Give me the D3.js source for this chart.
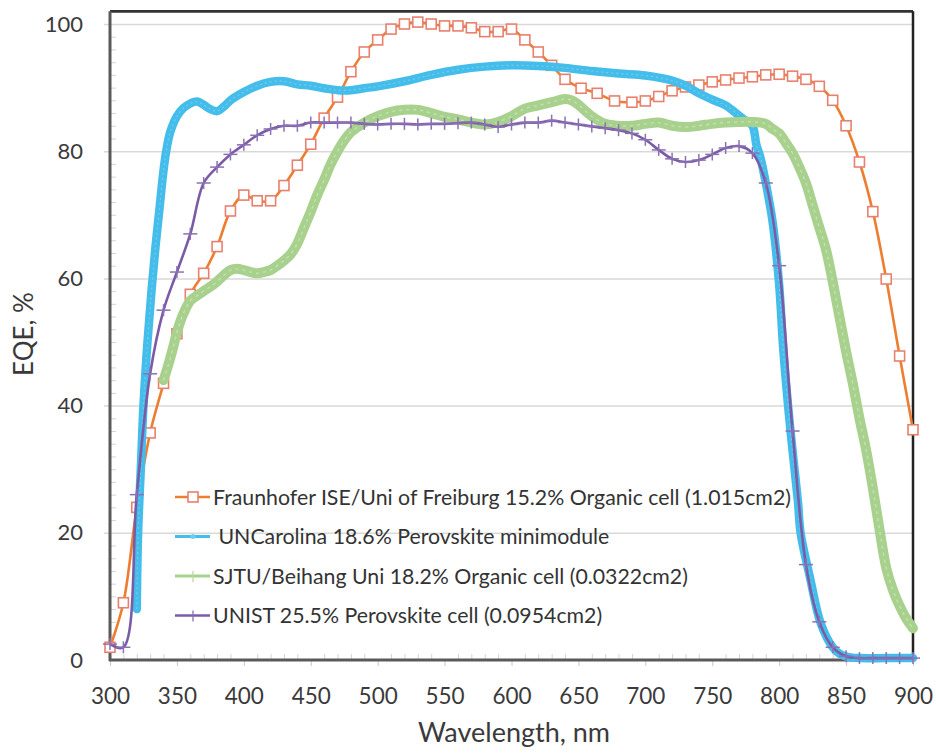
<!DOCTYPE html>
<html>
<head>
<meta charset="utf-8">
<script src="https://cdn.jsdelivr.net/npm/d3@7"></script>
<style>
  body { margin: 0; background: #fff; }
  svg { display: block; font-family: Lato, "Open Sans", sans-serif; }
</style>
</head>
<body>
<div id="chart"></div>
<script>
'use strict';

// data ===============================================================
const xTicks = [300, 350, 400, 450, 500, 550, 600, 650, 700, 750, 800, 850, 900];
const yTicks = [0, 20, 40, 60, 80, 100];

const seriesNames = [
  'Fraunhofer ISE/Uni of Freiburg 15.2% Organic cell (1.015cm2)',
  ' UNCarolina 18.6% Perovskite minimodule',
  'SJTU/Beihang Uni 18.2% Organic cell (0.0322cm2)',
  'UNIST 25.5% Perovskite cell (0.0954cm2)'
];

// Fraunhofer (orange, square markers)
const fraunhoferNm = [300, 310, 320, 330, 340, 350, 360, 370, 380, 390, 400, 410, 420, 430, 440, 450,
  460, 470, 480, 490, 500, 510, 520, 530, 540, 550, 560, 570, 580, 590, 600, 610, 620, 630, 640,
  652, 664, 677, 690, 700, 710, 720, 730, 740, 750, 760, 770, 780, 790, 800, 810, 820, 830, 840,
  850, 860, 870, 880, 890, 900];
const fraunhoferEqe = [2, 9, 24, 35.7, 43.5, 51.3, 57.5, 60.8, 65, 70.6, 73.1, 72.2, 72.2, 74.6, 77.8, 81.1,
  85.2, 88.5, 92.5, 95.6, 97.5, 99.2, 100, 100.3, 100, 99.7, 99.7, 99.4, 98.8, 98.8, 99.2, 97.5, 95.6, 93.5, 91.3,
  89.9, 89.1, 87.9, 87.7, 87.9, 88.6, 89.5, 90.1, 90.4, 90.9, 91.2, 91.5, 91.7, 92, 92.1, 91.8, 91.3, 90.2, 88,
  84, 78.3, 70.5, 59.9, 47.8, 36.2];

// UNCarolina (blue, dense dots)
const carolinaNm = [320, 321, 323, 325, 328, 331, 334, 337, 340, 342, 345, 350, 355, 360, 365, 370, 375, 380,
  385, 390, 400, 410, 420, 430, 440, 450, 460, 470, 480, 490, 500, 520, 540, 560, 580, 600, 620, 640, 660,
  680, 700, 720, 730, 740, 750, 760, 770, 775, 780, 783, 786, 790, 795, 800, 803, 808, 814, 816, 823, 831,
  840, 845, 851, 860, 880, 900];
const carolinaEqe = [8, 20, 30, 40, 50, 58, 65, 71, 77, 80, 83, 85.5, 86.8, 87.5, 87.8, 87.3, 86.6, 86.3,
  87, 88, 89.3, 90.3, 90.9, 91, 90.5, 90.3, 89.9, 89.6, 89.6, 89.9, 90.2, 91, 92, 92.8, 93.3, 93.5, 93.4, 93.1, 92.6,
  92.2, 91.9, 91.1, 90.3, 89.1, 88.1, 87.2, 85.6, 84.8, 84, 81, 79, 75, 69, 59, 49, 37, 25, 20, 13, 5.8,
  2, 1, 0.5, 0.3, 0.3, 0.3];

// SJTU/Beihang (green, dense triangles)
const sjtuNm = [340, 343, 347, 350, 353, 356, 360, 365, 370, 375, 380, 385, 390, 395, 400, 405, 410, 415, 420,
  425, 430, 435, 440, 445, 450, 455, 460, 465, 470, 475, 480, 485, 490, 500, 510, 520, 530, 540, 550, 560,
  570, 580, 590, 600, 610, 620, 630, 640, 645, 650, 660, 670, 680, 690, 700, 710, 720, 730, 740, 750, 760,
  770, 780, 790, 795, 800, 805, 810, 815, 820, 825, 830, 835, 840, 845, 850, 855, 860, 865, 870, 875, 880,
  885, 890, 895, 900];
const sjtuEqe = [44, 46, 49, 51.5, 53.5, 55, 56.5, 57.3, 58, 58.7, 59.5, 60.5, 61.3, 61.5, 61.3, 61, 60.8, 61, 61.3,
  62, 62.8, 63.8, 65.5, 68, 70.5, 73.2, 75.5, 78, 80, 81.7, 83, 83.8, 84.5, 85.5, 86.2, 86.5, 86.5, 86, 85.4, 85,
  84.5, 84.2, 84.6, 85.5, 86.7, 87.2, 87.7, 88.2, 88, 87.3, 85.5, 84.3, 84, 84, 84.3, 84.5, 84, 83.8, 84, 84.3, 84.5,
  84.6, 84.6, 84.3, 83.5, 82.8, 81.3, 79.7, 77.5, 75, 71.5, 68, 64.5, 59.5, 54, 48.5, 43.5, 38, 33, 27, 20.5, 14.5,
  11, 8.5, 6.5, 5];

// UNIST (purple, plus markers)
const unistNm = [300, 310, 320, 330, 340, 350, 360, 370, 380, 390, 400, 410, 420, 430, 440, 450, 460, 470,
  480, 490, 500, 510, 520, 530, 540, 550, 560, 570, 580, 590, 600, 610, 620, 630, 640, 650, 660, 670, 680,
  690, 700, 710, 720, 730, 740, 750, 760, 770, 780, 790, 800, 810, 820, 830, 840, 850, 860, 870, 880, 890, 900];
const unistEqe = [2.5, 2, 26, 45, 55, 61, 67, 75, 77.5, 79.5, 81, 82.5, 83.5, 84, 84, 84.5, 84.5, 84.5,
  84.5, 84.3, 84.2, 84.3, 84.3, 84.2, 84.3, 84.3, 84.4, 84.5, 84.2, 83.8, 84.2, 84.5, 84.5, 84.8, 84.5, 84.2, 83.9,
  83.6, 83.3, 82.8, 81.8, 80.2, 78.8, 78.3, 78.6, 79.5, 80.5, 80.8, 79.7, 75, 62, 36, 15, 6, 2, 0.6, 0.3, 0.3, 0.3,
  0.3, 0.3];

// setup ==============================================================
const width = 936;
const height = 756;

const svg = d3.select('#chart').append('svg')
  .attr('width', width)
  .attr('height', height);

const xScale = d3.scaleLinear().domain([300, 900]).range([110, 913]);
const yScale = d3.scaleLinear().domain([0, 100]).range([660, 24]);
const yTop = yScale(102); // plot frame sits a little above 100

const textColor = '#3a3a3a';

// gridlines + minor ticks ============================================
svg.append('g')
  .attr('class', 'grid')
  .attr('transform', 'translate(110,0)')
  .call(d3.axisLeft(yScale).tickValues(yTicks.filter(t => t > 0)).tickSizeInner(-803).tickSizeOuter(0).tickFormat(''))
  .call(g => g.select('.domain').remove())
  .call(g => g.selectAll('line').attr('stroke', '#d9d9d9').attr('stroke-width', 1.5).attr('x1', -6));

svg.append('g')
  .attr('transform', 'translate(110,0)')
  .call(d3.axisRight(yScale).tickValues(d3.range(2, 101, 2).filter(t => t % 20 !== 0)).tickSize(6).tickFormat(''))
  .call(g => g.select('.domain').remove())
  .call(g => g.selectAll('line').attr('stroke', '#d4d4d4'));

svg.append('g')
  .attr('transform', 'translate(0,660)')
  .call(d3.axisTop(xScale).tickValues(d3.range(310, 900, 10).filter(t => t % 50 !== 0)).tickSize(6).tickFormat(''))
  .call(g => g.select('.domain').remove())
  .call(g => g.selectAll('line').attr('stroke', '#d4d4d4'));

// tick labels ========================================================
const yAxis = svg.append('g')
  .attr('transform', 'translate(110,0)')
  .call(d3.axisLeft(yScale).tickValues(yTicks).tickSize(0).tickPadding(27));
yAxis.select('.domain').remove();
yAxis.selectAll('text').attr('font-size', 22).attr('fill', textColor).attr('font-family', 'Lato');

const xAxis = svg.append('g')
  .attr('transform', 'translate(0,660)')
  .call(d3.axisBottom(xScale).tickValues(xTicks).tickSize(6).tickPadding(22));
xAxis.select('.domain').remove();
xAxis.selectAll('line').attr('stroke', '#c8c8c8');
xAxis.selectAll('text').attr('font-size', 22.5).attr('fill', textColor).attr('font-family', 'Lato');

// frame ==============================================================
svg.append('line').attr('x1', 110).attr('x2', 913).attr('y1', yTop).attr('y2', yTop)
  .attr('stroke', '#333').attr('stroke-width', 2.8);
svg.append('line').attr('x1', 913).attr('x2', 913).attr('y1', yTop).attr('y2', 660)
  .attr('stroke', '#222').attr('stroke-width', 2.5);
svg.append('line').attr('x1', 110).attr('x2', 110).attr('y1', yTop).attr('y2', 661)
  .attr('stroke', '#5a5a5a').attr('stroke-width', 3);
svg.append('line').attr('x1', 109).attr('x2', 914).attr('y1', 660).attr('y2', 660)
  .attr('stroke', '#5a5a5a').attr('stroke-width', 3);

// series (drawn in legend order, later ones on top) ==================
const zip = (xs, ys) => xs.map((v, i) => [v, ys[i]]);
const smooth = d3.line()
  .x(d => xScale(d[0]))
  .y(d => yScale(d[1]))
  .curve(d3.curveCatmullRom.alpha(0.5));

// Fraunhofer
const fraunhofer = zip(fraunhoferNm, fraunhoferEqe);
svg.append('path').datum(fraunhofer)
  .attr('d', smooth).attr('fill', 'none')
  .attr('stroke', '#ED7D31').attr('stroke-width', 2.6);
svg.selectAll('rect.fq').data(fraunhofer).enter().append('rect')
  .attr('class', 'fq')
  .attr('x', d => xScale(d[0]) - 5)
  .attr('y', d => yScale(d[1]) - 5)
  .attr('width', 10).attr('height', 10)
  .attr('fill', '#fff').attr('stroke', '#E8806E').attr('stroke-width', 1.6);

// UNCarolina - thick band of dots
const carolina = zip(carolinaNm, carolinaEqe);
svg.append('path').datum(carolina)
  .attr('d', smooth).attr('fill', 'none')
  .attr('stroke', '#45BDEA').attr('stroke-width', 8.5)
  .attr('stroke-linejoin', 'round').attr('stroke-linecap', 'round');
svg.append('path').datum(carolina)
  .attr('d', smooth).attr('fill', 'none')
  .attr('stroke', '#70cdef').attr('stroke-width', 1.2).attr('stroke-dasharray', '2,3');

// SJTU - thick green band
const sjtu = zip(sjtuNm, sjtuEqe);
svg.append('path').datum(sjtu)
  .attr('d', smooth).attr('fill', 'none')
  .attr('stroke', '#A9D18E').attr('stroke-width', 10)
  .attr('stroke-linejoin', 'round').attr('stroke-linecap', 'round');
svg.append('path').datum(sjtu)
  .attr('d', smooth).attr('fill', 'none')
  .attr('stroke', '#c5e0b3').attr('stroke-width', 1.4).attr('stroke-dasharray', '3,4');

// UNIST
const unist = zip(unistNm, unistEqe);
svg.append('path').datum(unist)
  .attr('d', smooth).attr('fill', 'none')
  .attr('stroke', '#7B5BA6').attr('stroke-width', 2.6);
const plus = svg.selectAll('g.up').data(unist).enter().append('g')
  .attr('class', 'up')
  .attr('transform', d => `translate(${xScale(d[0])},${yScale(d[1])})`);
plus.append('line').attr('x1', -7).attr('x2', 7).attr('stroke', '#8a70b4').attr('stroke-width', 1.5);
plus.append('line').attr('y1', -6).attr('y2', 6).attr('stroke', '#8a70b4').attr('stroke-width', 1.5);

// legend =============================================================
const legendColors = ['#ED7D31', '#45BDEA', '#A9D18E', '#7B5BA6'];
const legend = svg.append('g').attr('class', 'legend');
seriesNames.forEach((name, i) => {
  const cy = 497 + i * 39.5;
  const row = legend.append('g').attr('transform', `translate(0,${cy})`);
  row.append('line').attr('x1', 175).attr('x2', 210)
    .attr('stroke', legendColors[i]).attr('stroke-width', i === 0 || i === 3 ? 2.6 : 3);
  if (i === 0) {
    row.append('rect').attr('x', 188).attr('y', -5).attr('width', 10).attr('height', 10)
      .attr('fill', '#fff').attr('stroke', '#E8806E').attr('stroke-width', 1.6);
  } else if (i === 1) {
    row.append('circle').attr('cx', 193).attr('cy', 0).attr('r', 2.5).attr('fill', '#70cdef');
  } else {
    row.append('line').attr('x1', 193).attr('x2', 193).attr('y1', -5).attr('y2', 6)
      .attr('stroke', i === 2 ? '#b8d9a0' : '#8a70b4').attr('stroke-width', 1.3);
  }
  row.append('text')
    .attr('x', 213).attr('y', 7.5)
    .attr('font-size', 21.3)
    .attr('fill', '#333')
    .attr('xml:space', 'preserve')
    .style('white-space', 'pre')
    .text(name);
});

// axis titles ========================================================
svg.append('text')
  .attr('transform', 'translate(33,334) rotate(-90)')
  .attr('text-anchor', 'middle')
  .attr('font-size', 26)
  .attr('fill', textColor)
  .text('EQE, %');

svg.append('text')
  .attr('x', 514).attr('y', 742)
  .attr('text-anchor', 'middle')
  .attr('font-size', 27)
  .attr('fill', textColor)
  .text('Wavelength, nm');
</script>
</body>
</html>
